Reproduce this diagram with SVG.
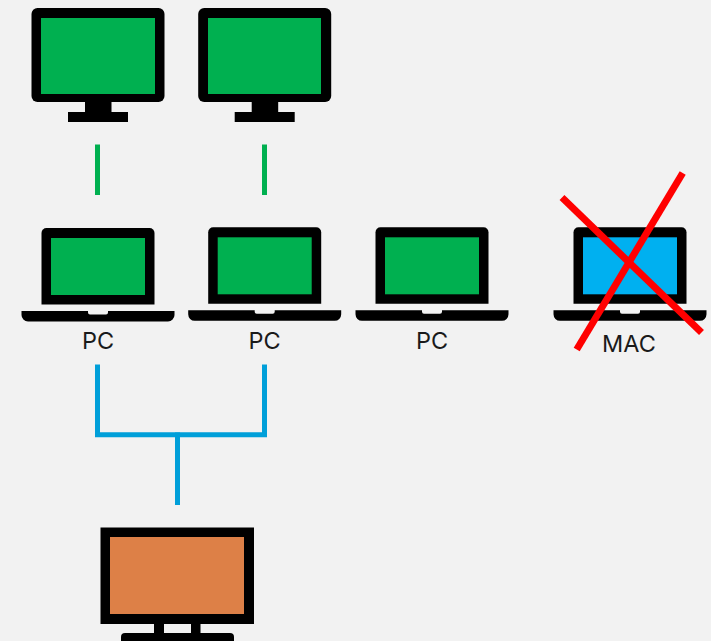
<svg xmlns="http://www.w3.org/2000/svg" width="711" height="641" viewBox="0 0 711 641">
<style>
.lbl{font-family:"Inter","Liberation Sans",sans-serif;font-size:23.500px;font-weight:400;fill:#1a1a1a;text-anchor:middle}
.g{fill:#00B050}.k{fill:#000}
.gl{stroke:#00B050;stroke-width:5;fill:none}
.bl{stroke:#009FD9;stroke-width:5;fill:none}
.rd{stroke:#FF0000;stroke-width:7;fill:none}
</style>
<defs>
<g id="mon"><rect class="k" x="31.500" y="8" width="133" height="94" rx="6"/><rect class="k" x="85" y="100" width="26.500" height="14"/><rect class="k" x="68" y="112" width="60" height="10"/></g>
<g id="lap"><path class="k" d="M41.500 304.500V233a5 5 0 0 1 5-5H149.500a5 5 0 0 1 5 5V304.500Z"/><path class="k" d="M21.500 311H88v1.500a2 2 0 0 0 2 2h16a2 2 0 0 0 2-2V311H174.500v4a6.500 6.500 0 0 1-6.500 6.500H28a6.500 6.500 0 0 1-6.500-6.500Z"/></g>
</defs>
<rect width="711" height="641" fill="#F2F2F2"/>
<g id="connectors">
<path class="gl" d="M97.500 144.500V195"/>
<path class="gl" d="M264.500 144.500V195"/>
<path class="bl" d="M97.500 364.500V434.700H264.500V364.500"/>
<path class="bl" d="M177.500 432.500V505"/>
</g>
<g id="monitor-1"><use href="#mon"/><rect class="g" x="41" y="18" width="114" height="76"/></g>
<g id="monitor-2"><use href="#mon" x="166.700"/><rect class="g" x="208" y="18" width="113" height="76"/></g>
<g id="laptop-1"><use href="#lap"/><rect class="g" x="51" y="238" width="94" height="57"/><text class="lbl" x="98" y="349">PC</text></g>
<g id="laptop-2"><use href="#lap" x="166.700" y="-0.700"/><rect class="g" x="217.700" y="237.300" width="94" height="57"/><text class="lbl" x="264.500" y="349">PC</text></g>
<g id="laptop-3"><use href="#lap" x="334" y="-0.700"/><rect class="g" x="385" y="237.300" width="94" height="57"/><text class="lbl" x="432" y="349">PC</text></g>
<g id="laptop-4"><use href="#lap" x="532" y="-0.700"/><rect x="583" y="237.300" width="94" height="57" fill="#00B0F0"/><text class="lbl" x="629" y="352">MAC</text></g>
<g id="cross"><path class="rd" d="M562 197.500L701.500 332.500"/><path class="rd" d="M682.700 173L576.700 349.500"/></g>
<g id="monitor-3"><rect class="k" x="100.500" y="527.500" width="153.500" height="96.500"/><rect x="110" y="537" width="134" height="77" fill="#DD8047"/><rect class="k" x="154" y="624" width="10" height="10"/><rect class="k" x="191" y="624" width="9.500" height="10"/><path class="k" d="M121 641V637a4 4 0 0 1 4-4H230a4 4 0 0 1 4 4V641Z"/></g>
</svg>
